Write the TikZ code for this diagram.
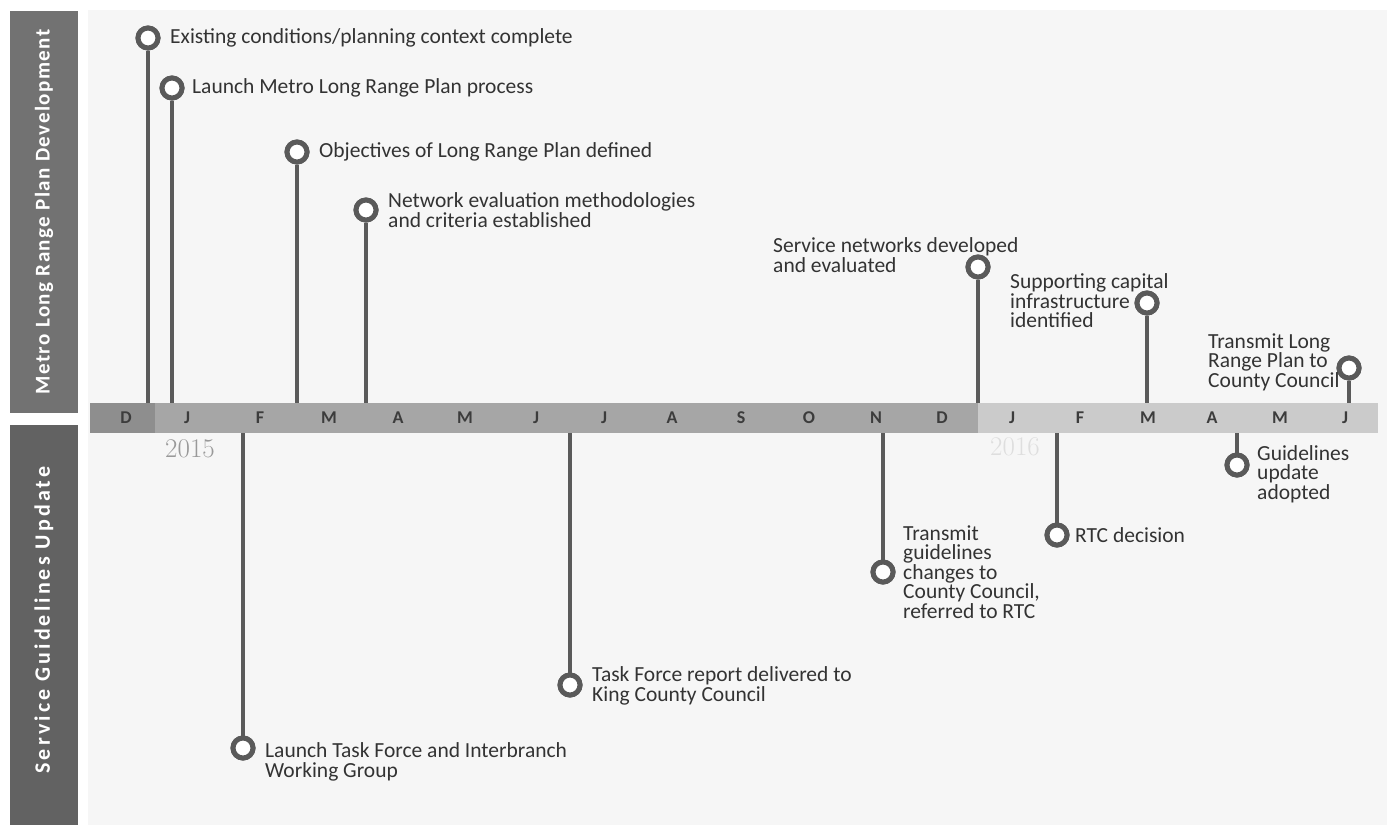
\documentclass[tikz,border=0pt]{standalone}
\usepackage{fontspec}
\setmainfont{Carlito}
\begin{document}
\begin{tikzpicture}[x=1pt,y=-1pt,
  ring/.style={circle,draw=stemc,line width=5pt,fill=white,minimum size=20pt,inner sep=0pt},
  stem/.style={draw=stemc,line width=4pt},
  evtext/.style={inner sep=0pt,align=left,text=txtc,font=\fontsize{21.5}{19.5}\selectfont},
  month/.style={text=monc,font=\bfseries\fontsize{18}{18}\selectfont,inner sep=0pt},
  year/.style={font=\fontfamily{lmr}\selectfont\fontsize{27}{27}\selectfont,inner sep=0pt},
  sidetext/.style={text=white,rotate=90,inner sep=0pt}]
\definecolor{stemc}{HTML}{5A5A5A}
\definecolor{txtc}{HTML}{333333}
\definecolor{monc}{HTML}{3C3C3C}
\definecolor{bgc}{HTML}{F6F6F6}
\definecolor{topbox}{HTML}{727272}
\definecolor{botbox}{HTML}{626262}
\definecolor{decA}{HTML}{8E8E8E}
\definecolor{yrA}{HTML}{A6A6A6}
\definecolor{yrB}{HTML}{CBCBCB}
\useasboundingbox (0,0) rectangle (1387,825);
\fill[white] (0,0) rectangle (1387,825);
\fill[bgc] (88,10) rectangle (1387,825);
% side boxes
\fill[topbox] (10,11) rectangle (78,413);
\fill[botbox] (10,425) rectangle (78,825);
\node[sidetext,font=\bfseries\addfontfeature{LetterSpace=7}\fontsize{21}{21}\selectfont] (s1) at (44,212) {Metro Long Range Plan Development};
\node[sidetext,font=\bfseries\addfontfeature{LetterSpace=14}\fontsize{22}{22}\selectfont] (s2) at (44,620) {Service Guidelines Update};
% month bar
\fill[decA] (90,403) rectangle (155,433);
\fill[yrA] (155,403) rectangle (978,433);
\fill[yrB] (978,403) rectangle (1378,433);
\foreach \m/\x in {D/126,J/187,F/260,M/329,A/398,M/465,J/536,J/604,A/672,S/741,O/809,N/876,D/942,J/1012,F/1080,M/1148,A/1212,M/1280,J/1345}
  \node[month] at (\x,418) {\m};
\node[year,text=black!40] (y15) at (190,449) {2015};
\node[year,text=black!13] (y16) at (1015,447) {2016};
% upper events
\coordinate (b1) at (148,403);
\coordinate (b2) at (172,403);
\coordinate (b3) at (297,403);
\coordinate (b4) at (366,403);
\coordinate (b5) at (978,403);
\coordinate (b6) at (1147,403);
\coordinate (b7) at (1349,403);
\node[ring] (e1) at (148,38) {};
\node[ring] (e2) at (172,88) {};
\node[ring] (e3) at (297,152) {};
\node[ring] (e4) at (366,210) {};
\node[ring] (e5) at (978,267) {};
\node[ring] (e6) at (1147,303) {};
\node[ring] (e7) at (1349,368) {};
\foreach \i in {1,...,7} \draw[stem] (e\i) -- (b\i);
\foreach \i in {1,...,7} \node[ring] at (e\i) {};
\node[evtext,anchor=west] (t1) at (170,38) {Existing conditions/planning context complete};
\node[evtext,anchor=west] (t2) at (192,88) {Launch Metro Long Range Plan process};
\node[evtext,anchor=west] (t3) at (319,152) {Objectives of Long Range Plan defined};
\node[evtext,anchor=west] (t4) at (388,210) {Network evaluation methodologies\\and criteria established};
\node[evtext,anchor=west] (t5) at (773,255) {Service networks developed\\and evaluated};
\node[evtext,anchor=west] (t6) at (1010,301) {Supporting capital\\infrastructure\\identified};
\node[evtext,anchor=west] (t7) at (1208,362) {Transmit Long\\Range Plan to\\County Council};
% lower events
\coordinate (c8) at (243,433);
\coordinate (c9) at (570,433);
\coordinate (c10) at (883,433);
\coordinate (c11) at (1057,433);
\coordinate (c12) at (1237,433);
\node[ring] (e8) at (243,748) {};
\node[ring] (e9) at (570,685) {};
\node[ring] (e10) at (883,572) {};
\node[ring] (e11) at (1057,535) {};
\node[ring] (e12) at (1237,465) {};
\foreach \i in {8,...,12} \draw[stem] (e\i) -- (c\i);
\foreach \i in {8,...,12} \node[ring] at (e\i) {};
\node[evtext,anchor=west] (t8) at (265,762) {Launch Task Force and Interbranch\\Working Group};
\node[evtext,anchor=west] (t9) at (592,686) {Task Force report delivered to\\King County Council};
\node[evtext,anchor=west] (t10) at (903,572) {Transmit\\guidelines\\changes to\\County Council,\\referred to RTC};
\node[evtext,anchor=west] (t11) at (1075,535) {RTC decision};
\node[evtext,anchor=west] (t12) at (1257,474) {Guidelines\\update\\adopted};
\end{tikzpicture}
\end{document}
